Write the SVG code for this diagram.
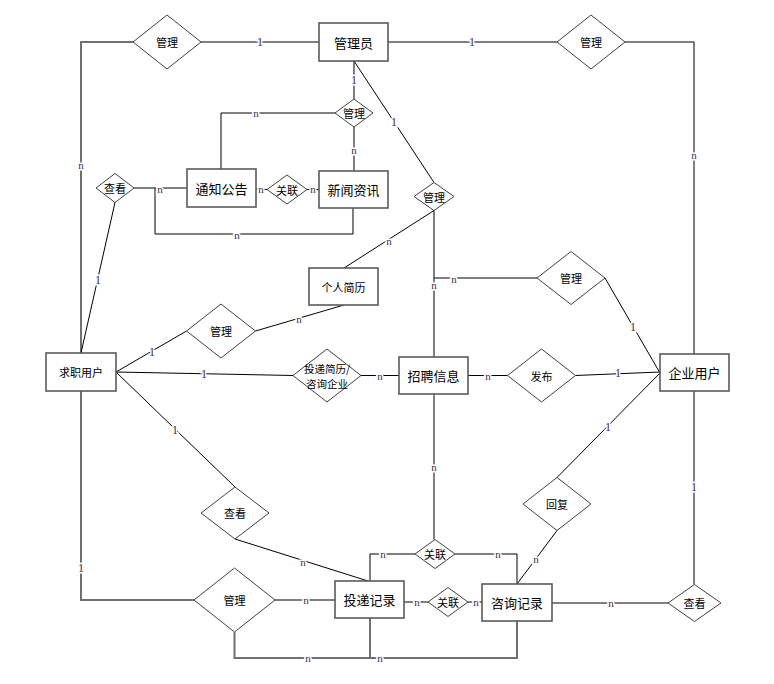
<svg xmlns="http://www.w3.org/2000/svg" width="774" height="684" viewBox="0 0 774 684">
  <style>
    .ent rect { fill: #ffffff; stroke: #5a5a5a; stroke-width: 1.6; }
    .rel polygon { fill: #ffffff; stroke: #404040; stroke-width: 1; }
    .t { font-family: "Noto Sans CJK SC", "Liberation Sans", sans-serif; fill: #000; text-anchor: middle; dominant-baseline: central; }
    .te { font-size: 13px; }
    .tr { font-size: 11px; }
    #connectors line, #connectors polyline { fill: none; stroke: #000; stroke-width: 1; }
    #connectors .g { stroke: #707070; stroke-width: 2; }
    .lb { font-family: "Liberation Serif", serif; fill: #3a2a4a; text-anchor: middle; dominant-baseline: central; stroke: #fff; stroke-width: 3; paint-order: stroke; }
    .one { font-size: 12px; }
    .n { font-size: 11px; }
  </style>
  <rect width="774" height="684" fill="#ffffff"/>

  <!-- connectors -->
  <g id="connectors">
    <polyline class="g" points="81,353 81,42 133,42"/>
    <line x1="201" y1="42" x2="319" y2="42"/>
    <line x1="388" y1="42" x2="557" y2="42"/>
    <polyline points="625,42 694,42 694,354"/>
    <line x1="694" y1="391" x2="694" y2="584.5"/>
    <line x1="354" y1="61" x2="354" y2="99"/>
    <line x1="354" y1="127" x2="354" y2="171"/>
    <polyline points="335,113 221,113 221,169"/>
    <line x1="354" y1="61" x2="434" y2="182.5"/>
    <line x1="434" y1="210.5" x2="344" y2="268"/>
    <line x1="434" y1="210.5" x2="434" y2="357"/>
    <line x1="537" y1="278" x2="434" y2="278"/>
    <line x1="256" y1="189" x2="267" y2="189.5"/>
    <line x1="307" y1="189.5" x2="319" y2="189.5"/>
    <line x1="134" y1="188" x2="187" y2="188"/>
    <polyline points="155,188 155,234 353,234 353,208"/>
    <line x1="115" y1="202.5" x2="81" y2="353"/>
    <line x1="116" y1="372" x2="186.5" y2="331"/>
    <line x1="255.5" y1="331" x2="344" y2="305"/>
    <line x1="116" y1="372" x2="293" y2="375.5"/>
    <line x1="361" y1="375.5" x2="399" y2="375.5"/>
    <line x1="468" y1="375.5" x2="507.5" y2="375.5"/>
    <line x1="575.5" y1="375.5" x2="660" y2="372"/>
    <line x1="605" y1="278" x2="660" y2="373"/>
    <line x1="660" y1="373" x2="557" y2="477.5"/>
    <line x1="557" y1="530.5" x2="517" y2="584"/>
    <line x1="116" y1="372" x2="235" y2="487"/>
    <line x1="235" y1="539" x2="368" y2="581"/>
    <polyline class="g" points="81,391 81,600 194,600"/>
    <line x1="275" y1="600" x2="335" y2="600"/>
    <line x1="434" y1="394" x2="434" y2="539.5"/>
    <polyline points="370,581 370,554 415,554"/>
    <polyline points="455,554 517,554 517,584"/>
    <line x1="404" y1="602" x2="428" y2="602"/>
    <line x1="468" y1="602" x2="482" y2="602"/>
    <line x1="552" y1="603" x2="668" y2="603"/>
    <polyline class="g" points="234.5,632 234.5,658 517,658 517,621"/>
    <line class="g" x1="370" y1="618" x2="370" y2="658"/>

    <!-- cardinality labels -->
    <text class="lb n" x="81" y="165">n</text>
    <text class="lb one" x="260" y="42">1</text>
    <text class="lb one" x="472" y="42">1</text>
    <text class="lb n" x="694" y="155">n</text>
    <text class="lb one" x="694" y="487">1</text>
    <text class="lb one" x="354" y="80">1</text>
    <text class="lb n" x="354" y="150">n</text>
    <text class="lb n" x="256" y="113">n</text>
    <text class="lb one" x="394" y="122">1</text>
    <text class="lb n" x="389" y="241">n</text>
    <text class="lb n" x="434" y="285">n</text>
    <text class="lb n" x="454" y="279">n</text>
    <text class="lb n" x="261" y="189">n</text>
    <text class="lb n" x="313" y="189">n</text>
    <text class="lb n" x="160" y="189">n</text>
    <text class="lb n" x="237" y="235">n</text>
    <text class="lb one" x="98" y="280">1</text>
    <text class="lb one" x="152" y="352">1</text>
    <text class="lb n" x="299" y="319">n</text>
    <text class="lb one" x="204" y="374">1</text>
    <text class="lb n" x="380" y="376">n</text>
    <text class="lb n" x="488" y="376">n</text>
    <text class="lb one" x="618" y="373">1</text>
    <text class="lb one" x="633" y="327">1</text>
    <text class="lb one" x="608" y="427">1</text>
    <text class="lb n" x="536" y="559">n</text>
    <text class="lb one" x="175" y="430">1</text>
    <text class="lb n" x="303" y="562">n</text>
    <text class="lb one" x="81" y="568">1</text>
    <text class="lb n" x="306" y="600">n</text>
    <text class="lb n" x="434" y="467">n</text>
    <text class="lb n" x="383" y="554">n</text>
    <text class="lb n" x="498" y="554">n</text>
    <text class="lb n" x="417" y="602">n</text>
    <text class="lb n" x="476" y="602">n</text>
    <text class="lb n" x="611" y="603">n</text>
    <text class="lb n" x="308" y="658">n</text>
    <text class="lb n" x="380" y="658">n</text>
  </g>

  <!-- entities -->
  <g id="admin" class="ent"><rect x="319" y="23" width="69" height="38"/><text class="t te" x="353.5" y="42">管理员</text></g>
  <g id="notice" class="ent"><rect x="187" y="169" width="69" height="38"/><text class="t te" x="221.5" y="188">通知公告</text></g>
  <g id="news" class="ent"><rect x="319" y="171" width="69" height="37"/><text class="t te" x="353.5" y="189.5">新闻资讯</text></g>
  <g id="resume" class="ent"><rect x="309" y="268" width="69" height="37"/><text class="t tr" x="343.5" y="286.5">个人简历</text></g>
  <g id="seeker" class="ent"><rect x="46" y="353" width="70" height="38"/><text class="t tr" x="81" y="372">求职用户</text></g>
  <g id="job" class="ent"><rect x="399" y="357" width="69" height="37"/><text class="t te" x="433.5" y="375.5">招聘信息</text></g>
  <g id="company" class="ent"><rect x="660" y="354" width="69" height="37"/><text class="t te" x="694.5" y="372.5">企业用户</text></g>
  <g id="delivery" class="ent"><rect x="335" y="581" width="69" height="37"/><text class="t te" x="369.5" y="599.5">投递记录</text></g>
  <g id="consult" class="ent"><rect x="482" y="584" width="70" height="37"/><text class="t te" x="517" y="602.5">咨询记录</text></g>

  <!-- relationships -->
  <g id="rel-manage-tl" class="rel"><polygon points="133,42 167,15 201,42 167,69"/><text class="t tr" x="167" y="42">管理</text></g>
  <g id="rel-manage-tr" class="rel"><polygon points="557,42 591,15 625,42 591,69"/><text class="t tr" x="591" y="42">管理</text></g>
  <g id="rel-manage-news" class="rel"><polygon points="335,113 354,99 373,113 354,127"/><text class="t tr" x="354" y="113">管理</text></g>
  <g id="rel-manage-resume-admin" class="rel"><polygon points="414,196.5 434,182.5 454,196.5 434,210.5"/><text class="t tr" x="434" y="196.5">管理</text></g>
  <g id="rel-view-tl" class="rel"><polygon points="96,188 115,173.5 134,188 115,202.5"/><text class="t tr" x="115" y="188">查看</text></g>
  <g id="rel-link-notice" class="rel"><polygon points="267,189.5 287,175 307,189.5 287,204"/><text class="t tr" x="287" y="189.5">关联</text></g>
  <g id="rel-manage-resume" class="rel"><polygon points="186.5,331 221,304 255.5,331 221,358"/><text class="t tr" x="221" y="331">管理</text></g>
  <g id="rel-deliver" class="rel"><polygon points="293,375.5 327,349 361,375.5 327,402"/><text class="t" font-size="10.5" x="327" y="368">投递简历/</text><text class="t" font-size="10.5" x="327" y="383">咨询企业</text></g>
  <g id="rel-manage-job" class="rel"><polygon points="537,278 571,251.5 605,278 571,304.5"/><text class="t tr" x="571" y="278">管理</text></g>
  <g id="rel-publish" class="rel"><polygon points="507.5,375.5 541.5,349 575.5,375.5 541.5,402"/><text class="t tr" x="541.5" y="375.5">发布</text></g>
  <g id="rel-reply" class="rel"><polygon points="523,504 557,477.5 591,504 557,530.5"/><text class="t tr" x="557" y="504">回复</text></g>
  <g id="rel-view-mid" class="rel"><polygon points="201,513 235,487 269,513 235,539"/><text class="t tr" x="235" y="513">查看</text></g>
  <g id="rel-link-top" class="rel"><polygon points="415,554 435,539.5 455,554 435,568.5"/><text class="t tr" x="435" y="554">关联</text></g>
  <g id="rel-link-mid" class="rel"><polygon points="428,602 448,587.5 468,602 448,616.5"/><text class="t tr" x="448" y="602">关联</text></g>
  <g id="rel-manage-bl" class="rel"><polygon points="194,600 234.5,568 275,600 234.5,632"/><text class="t tr" x="234.5" y="600">管理</text></g>
  <g id="rel-view-br" class="rel"><polygon points="668,603 694.5,584.5 721,603 694.5,621.5"/><text class="t tr" x="694.5" y="603">查看</text></g>
</svg>
